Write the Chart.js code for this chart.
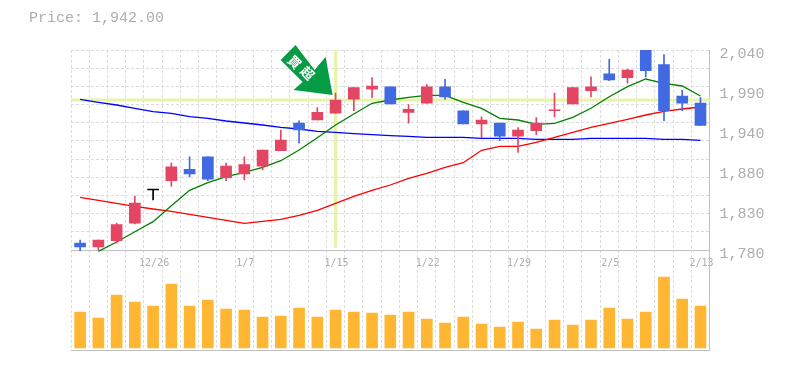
<!DOCTYPE html>
<html>
<head>
<meta charset="utf-8">
<title>Price chart</title>
<script src="https://cdn.jsdelivr.net/npm/chart.js@4/dist/chart.umd.js"></script>
<style>
    html, body { margin: 0; padding: 0; background: #fff; overflow: hidden; }
    #wrap { position: relative; width: 785px; height: 370px; }
    #preco { position: absolute; left: 29px; top: 10px; font: 15px "Liberation Mono", monospace; color: #aeaeae; white-space: pre; }
</style>
</head>
<body>
<div id="wrap">
    <div id="preco"></div>
    <canvas id="graficoCanvas" width="785" height="370"></canvas>
</div>
<script>
// ================= DADOS =================
const ultimoPreco = '1,942.00';
const datas = ['12/19','12/20','12/21','12/25','12/26','12/27','12/28','1/3','1/4','1/7','1/8','1/9','1/10','1/11','1/15','1/16','1/17','1/18','1/21','1/22','1/23','1/24','1/25','1/28','1/29','1/30','1/31','2/1','2/4','2/5','2/6','2/7','2/8','2/12','2/13'];
const datasVisiveis = ['12/26','1/7','1/15','1/22','1/29','2/5','2/13'];

const abertura   = [1789,1784,1792,1815,1858,1870,1885,1901,1874,1879,1889,1909,1945,1949,1958,1976,1989,1992,1959,1971,1992,1961,1944,1945,1928,1935,1961,1970,1987,2009,2004,2040,2021,1980,1971];
const fechamento = [1784,1793,1813,1841,1858,1888,1879,1872,1889,1891,1910,1923,1936,1959,1975,1991,1993,1970,1963,1992,1979,1944,1949,1928,1936,1945,1962,1991,1992,2001,2014,2013,1961,1971,1942];
const maximas    = [1793,1793,1815,1850,1858,1893,1901,1901,1893,1901,1910,1936,1948,1965,1984,1991,2004,1992,1969,1995,2002,1961,1953,1945,1939,1952,1984,1991,2005,2028,2015,2040,2034,1988,1978];
const minimas    = [1779,1780,1789,1814,1845,1863,1875,1870,1870,1871,1884,1909,1919,1949,1958,1961,1978,1970,1945,1971,1976,1944,1926,1922,1907,1930,1953,1970,1979,2000,1997,2005,1948,1961,1942];

const mediaLonga = [1975.9,1972,1968.5,1964.2,1959.8,1957.7,1953.3,1951.2,1947.7,1945.1,1942.5,1939.5,1937.3,1934.3,1933,1931.2,1929.9,1928.6,1927.8,1926.5,1926.5,1926.5,1925.2,1925.2,1925.2,1923.9,1923.9,1923.9,1925.2,1925.2,1925.2,1925.2,1923.9,1923.9,1922.6];
const mediaMedia = [1848.5,1844.6,1840.7,1836.8,1833.3,1830.3,1826.4,1822.5,1818.6,1814.7,1817.3,1819.9,1825.1,1831.6,1840.7,1849.8,1857.6,1864.5,1873.2,1879.7,1887.5,1893.5,1909.6,1914.8,1914.8,1920,1926.5,1933,1939.5,1944.7,1949.9,1955.5,1960.3,1963.3,1965.9];
const mediaCurta = [null,1778.3,1790.4,1803.8,1816.8,1837.6,1857.6,1867.5,1875.3,1881,1887.5,1896.1,1910,1926,1942.5,1956.8,1970.7,1975,1978.5,1981,1981,1972,1964.2,1951.2,1949,1943.4,1944.7,1952.5,1964.2,1979.3,1992.3,2002.3,1996.7,1993.2,1980.2];

const volumes = [36000,30000,53000,46000,42000,64000,42000,48000,39000,38000,31000,32000,40000,31000,38000,36000,35000,33000,36000,29000,25000,31000,24000,21000,26000,19000,28000,23000,28000,40000,29000,36000,71000,49000,42000];

const linhasGrade = [2040,2016.4,1992.7,1969.1,1945.5,1921.8,1898.2,1874.5,1850.9,1827.3,1803.6,1780,1650];
const ticksPreco = [2040,1988,1936,1884,1832,1780];
const rotulosPreco = ['2,040','1,990','1,940','1,880','1,830','1,780'];

// Marcador do sinal
const dataSinal = '1/15';
const precoCruz = 1975;
const precoFimCruz = 1783;
const textoSinal = ['買', '超'];

// ================= CORES =================
const corAlta = '#e34562';
const corBaixa = '#4169e1';
const corGrade = '#dcdcdc';
const corEixo = '#c0c0c0';
const corTexto = '#aeaeae';

const corCandle = fechamento.map((c, i) => c > abertura[i] ? corAlta : c < abertura[i] ? corBaixa : '#000000');

document.getElementById('preco').innerText = `Price: ${ultimoPreco}`;

// Linhas amarelas e seta, presas nas escalas
const cruzPlugin = {
    id: 'cruz',
    beforeDatasetsDraw(chart) {
        const { ctx, chartArea, scales } = chart;
        const px = scales.x.getPixelForValue(datas.indexOf(dataSinal));
        const py = scales.y.getPixelForValue(precoCruz);
        ctx.save();
        ctx.strokeStyle = '#e6f4a8';
        ctx.lineWidth = 3;
        ctx.beginPath();
        ctx.moveTo(chartArea.left, py);
        ctx.lineTo(chartArea.right, py);
        ctx.moveTo(px, chartArea.top);
        ctx.lineTo(px, scales.y.getPixelForValue(precoFimCruz));
        ctx.stroke();
        ctx.restore();
    },
    afterDatasetsDraw(chart) {
        const { ctx, scales } = chart;
        const i = datas.indexOf(dataSinal);
        const tipX = scales.x.getPixelForValue(i) - 3;
        const tipY = scales.y.getPixelForValue(maximas[i]) + 2;
        const seta = [[-37,-50],[-52,-35],[-30,-13],[-39,-5],[0,0],[-7,-38],[-18,-25]];
        ctx.save();
        ctx.fillStyle = '#069b45';
        ctx.beginPath();
        seta.forEach((p, k) => k ? ctx.lineTo(tipX + p[0], tipY + p[1]) : ctx.moveTo(tipX + p[0], tipY + p[1]));
        ctx.closePath();
        ctx.fill();
        ctx.fillStyle = '#ffffff';
        ctx.font = 'bold 13px "Noto Sans CJK JP"';
        ctx.textAlign = 'center';
        ctx.textBaseline = 'middle';
        [[-38,-33],[-25,-22]].forEach((p, k) => {
            ctx.save();
            ctx.translate(tipX + p[0], tipY + p[1]);
            ctx.rotate(Math.PI / 4);
            ctx.fillText(textoSinal[k], 0, 0);
            ctx.restore();
        });
        ctx.restore();
    }
};

// ================= CHART.JS =================
const ctx = document.getElementById('graficoCanvas').getContext('2d');
const meuGrafico = new Chart(ctx, {
    type: 'bar',
    plugins: [cruzPlugin],
    data: {
        labels: datas,
        datasets: [
            { type: 'bar', label: 'Volume', data: volumes, yAxisID: 'yVol', backgroundColor: '#ffb733', barThickness: 11, grouped: false, order: 6 },
            { type: 'line', label: 'Longa', data: mediaLonga, yAxisID: 'y', borderColor: '#0000ff', borderWidth: 1.3, pointRadius: 0, tension: 0, order: 5 },
            { type: 'line', label: 'Media', data: mediaMedia, yAxisID: 'y', borderColor: '#ff0000', borderWidth: 1.3, pointRadius: 0, tension: 0, order: 4 },
            { type: 'line', label: 'Curta', data: mediaCurta, yAxisID: 'y', borderColor: '#008000', borderWidth: 1.3, pointRadius: 0, tension: 0, order: 3 },
            { type: 'bar', label: 'Pavio', data: maximas.map((m, i) => [minimas[i], m]), yAxisID: 'y', backgroundColor: corCandle, barThickness: 1, grouped: false, order: 2 },
            { type: 'bar', label: 'Corpo', data: abertura.map((a, i) => [a, fechamento[i]]), yAxisID: 'y', backgroundColor: corCandle, barThickness: 11, minBarLength: 1, grouped: false, order: 1 }
        ]
    },
    options: {
        responsive: false,
        animation: false,
        layout: { padding: { top: 50, left: 71, bottom: 20, right: 0 } },
        plugins: { legend: { display: false }, tooltip: { enabled: false } },
        scales: {
            x: {
                type: 'category',
                position: { y: 1780 },
                offset: true,
                grid: { offset: true, color: corGrade, lineWidth: 1, drawTicks: false },
                border: { display: false, dash: [3, 2] },
                ticks: {
                    autoSkip: false,
                    maxRotation: 0,
                    padding: 7,
                    labelOffset: 1,
                    color: corTexto,
                    font: { family: '"DejaVu Sans Mono", monospace', size: 10 },
                    callback(v, i) {
                        const d = datas[i];
                        return datasVisiveis.includes(d) ? d : '';
                    }
                }
            },
            y: {
                position: 'left',
                min: 1650,
                max: 2040,
                afterBuildTicks(scale) { scale.ticks = linhasGrade.map(v => ({ value: v })); },
                afterFit(scale) { scale.width = 0; },
                grid: {
                    drawTicks: false,
                    color: c => (c.tick && (c.tick.value === 1780 || c.tick.value === 1650)) ? corEixo : corGrade
                },
                border: {
                    display: false,
                    dash: c => (c.tick && (c.tick.value === 1780 || c.tick.value === 1650)) ? [] : [3, 2]
                },
                ticks: { display: false }
            },
            yRotulos: {
                position: 'right',
                min: 1650,
                max: 2040,
                afterBuildTicks(scale) { scale.ticks = ticksPreco.map(v => ({ value: v })); },
                afterFit(scale) { scale.width = 75.4; },
                grid: { display: false, drawTicks: false },
                border: { display: true, color: corEixo, width: 1 },
                ticks: {
                    autoSkip: false,
                    padding: 10,
                    labelOffset: 4,
                    color: corTexto,
                    font: { family: '"Liberation Mono", monospace', size: 15 },
                    callback: (v, i) => rotulosPreco[i]
                }
            },
            yVol: { display: false, min: -2000, max: 298000 }
        }
    }
});
</script>
</body>
</html>
